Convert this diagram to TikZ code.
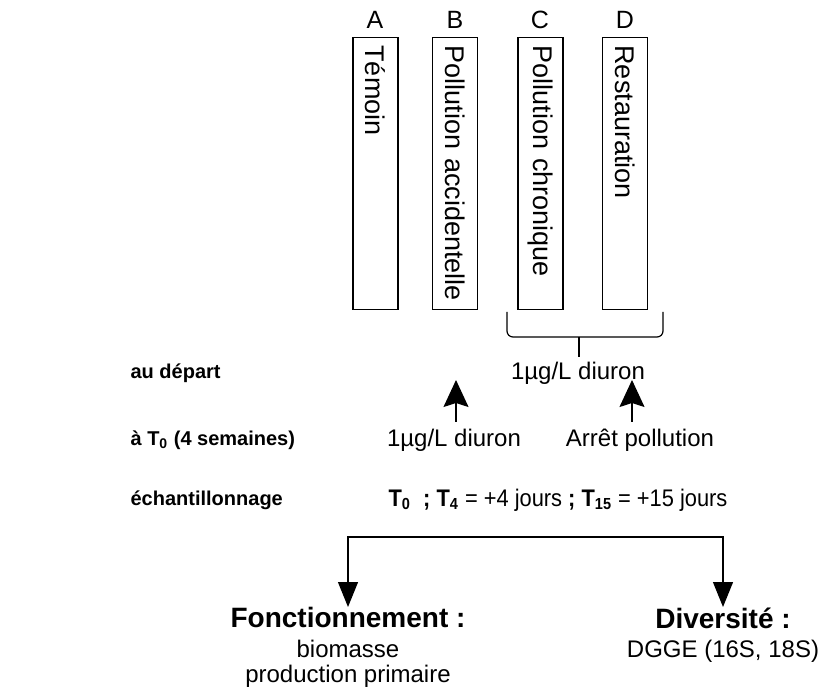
\documentclass[tikz,border=0pt]{standalone}
\usepackage{fontspec}
\setmainfont{Liberation Sans}
\usetikzlibrary{arrows.meta, positioning, calc}

\begin{document}
\begin{tikzpicture}[x=0.5pt, y=-0.5pt, line width=0.6pt,
    colbox/.style={draw, rotate=-90, minimum height=22.5pt, text width=128pt, inner xsep=4pt, inner ysep=0pt, align=left, font=\fontsize{13.5}{16}\selectfont},
    lettre/.style={font=\fontsize{12.5}{14}\selectfont},
    lbl/.style={font=\fontsize{12}{12.5}\selectfont, align=center},
    side/.style={anchor=west, inner sep=0pt, font=\bfseries\fontsize{10}{12}\selectfont},
    titre/.style={anchor=north, inner sep=0pt, font=\bfseries\fontsize{14}{16}\selectfont},
    up/.style={-{Stealth[width=12.5pt, length=13.5pt, inset=2pt]}},
    down/.style={-{Triangle[width=10pt, length=12.5pt]}}]
    \useasboundingbox (0,0) rectangle (824,689);

    % les quatre conditions
    \node[colbox] (a) at (375.5,173.5) {Témoin};
    \node[colbox] (b) at (455,173.5) {Pollution accidentelle};
    \node[colbox] (c) at (540.5,173.5) {Pollution chronique};
    \node[colbox] (d) at (625,173.5) {Restauration};
    \node[lettre] (la) at (375,20) {A};
    \node[lettre] (lb) at (455,20) {B};
    \node[lettre] (lc) at (540,20) {C};
    \node[lettre] (ld) at (625,20) {D};

    % accolade C-D
    \coordinate (brl) at (507,312);
    \coordinate (brr) at (663,312);
    \coordinate (brm) at (579,337);
    \draw[rounded corners=3pt] (brl) -- (brl |- brm) -- (brr |- brm) -- (brr);
    \node[lbl] (d0) at (578,373) {1µg/L diuron};
    \draw (brm) -- ($(brm |- d0.north)+(0,2)$);

    % lignes de gauche
    \node[side] (dep) at (130,373) {au départ};
    \node[side] (t0) at (130,440) {à T\textsubscript{0} (4 semaines)};
    \node[side] (ech) at (130,500) {échantillonnage};

    % a T0
    \node[lbl] (d1) at (454,440) {1µg/L diuron};
    \node[lbl] (stop) at (640,440) {Arrêt pollution};
    \coordinate (tb) at (456,380);
    \coordinate (td) at (632,380);
    \draw[up] (tb |- d1.north) -- (tb);
    \draw[up] (td |- stop.north) -- (td);

    % echantillonnage
    \node[anchor=west, inner sep=0pt, font=\fontsize{12}{14}\selectfont\addfontfeatures{FakeStretch=0.91}] (ts) at (388,500)
      {\textbf{T\textsubscript{0}\ \ ; T\textsubscript{4}} = +4 jours \textbf{; T\textsubscript{15}} = +15 jours};

    % mesures
    \node[titre] (fonc) at (348,607) {Fonctionnement :};
    \node[lbl, below=2pt of fonc] (fonc2) {biomasse\\production primaire};
    \node[titre] (div) at (723,607) {Diversité :};
    \node[lbl, below=2pt of div] (div2) {DGGE (16S, 18S)};
    \coordinate (split) at (535,537);
    \draw[down] (split) -| (fonc.north);
    \draw[down] (split) -| (div.north);
\end{tikzpicture}
\end{document}
